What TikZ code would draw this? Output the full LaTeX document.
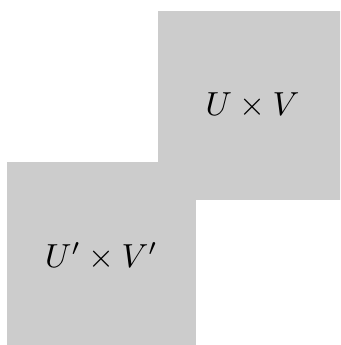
\documentclass[tikz,border=0pt]{standalone}
\begin{document}
\begin{tikzpicture}[x=0.3pt,y=-0.3pt,
  sq/.style={fill=black!20,draw=none,minimum width=56.7pt,minimum height=56.7pt,inner sep=0pt}]
\useasboundingbox (0,0) rectangle (340,345);
\clip (0,0) rectangle (340,345);
\node[sq] (uv) at (252.5,105.5) {$U\times V$};
\node[sq] (uvp) at (101.5,256.5) {$U'\times V'$};
\end{tikzpicture}
\end{document}
